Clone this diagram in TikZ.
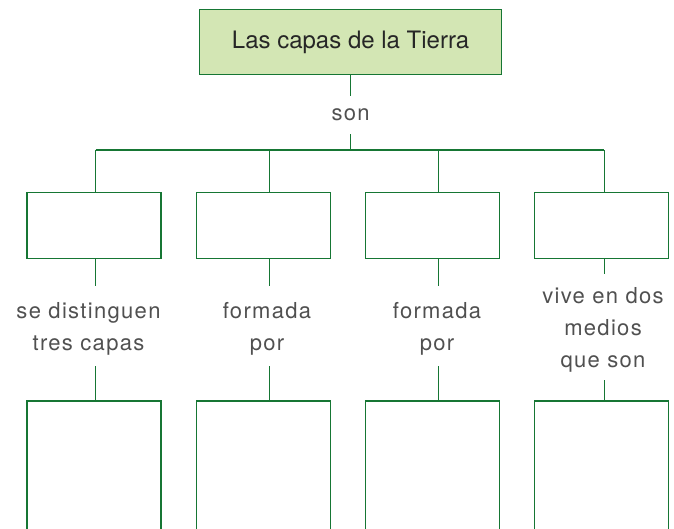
\documentclass[tikz,border=0pt]{standalone}
\usepackage{fontspec}
\setmainfont{TeX Gyre Heros}
\newfontfamily\labelfont[LetterSpace=6]{TeX Gyre Heros}
\usetikzlibrary{positioning}
\definecolor{mapgreen}{RGB}{22,118,52}
\definecolor{mapfill}{RGB}{211,230,180}
\definecolor{mapgray}{RGB}{80,80,80}

\begin{document}
\begin{tikzpicture}[x=1pt,y=-1pt]
	 \tikzstyle{title box}=[draw=mapgreen,fill=mapfill,line width=1.5pt,minimum width=302pt,minimum height=65pt,inner sep=0pt,font=\fontsize{24}{28}\selectfont,text=black!85]
	 \tikzstyle{empty box}=[draw=mapgreen,line width=1.5pt,minimum width=134pt,minimum height=66pt,inner sep=0pt]
	 \tikzstyle{open box}=[empty box,minimum height=200pt,anchor=north]
	 \tikzstyle{link}=[inner sep=0pt,align=center,text depth=0pt,text=mapgray,font=\labelfont\fontsize{22}{32}\selectfont]

	 \tikzstyle{edge}=[-,mapgreen,line width=1.5pt]

	 \useasboundingbox (0,0) rectangle (674,528);
	 \clip (0,0) rectangle (674,528);

	 \node[title box] (title) at (350.6,42.2) {Las capas de la Tierra};
	\node[link,minimum height=38pt] (son) at (350.6,115) {son};
	\coordinate (hub) at (350.6,150);

	\coordinate (j1) at (95.7,150);
	\coordinate (j2) at (269.3,150);
	\coordinate (j3) at (438.7,150);
	\coordinate (j4) at (604.3,150);

	\node[empty box] (b1) at (94,225.7) {};
	\node[empty box] (b2) at (263.3,225.7) {};
	\node[empty box] (b3) at (432.3,225.7) {};
	\node[empty box] (b4) at (601.3,225.7) {};

	\node[link,minimum height=80pt] (l1) at (88.5,326) {se distinguen\\tres capas};
	\node[link,minimum height=80pt] (l2) at (267,326) {formada\\por};
	\node[link,minimum height=80pt] (l3) at (437,326) {formada\\por};
	\node[link,minimum height=106pt] (l4) at (603,327) {vive en dos\\medios\\que son};

	\node[open box] (c1) at (94,400) {};
	\node[open box] (c2) at (263.3,400) {};
	\node[open box] (c3) at (432.3,400) {};
	\node[open box] (c4) at (601.3,400) {};

	\draw[edge] (title) -- (son);
	\draw[edge] (son) -- (hub);
	\draw[edge] (j1) -- (j4);

	\draw[edge] (j1) -- (j1 |- b1.north);
	\draw[edge] (j2) -- (j2 |- b2.north);
	\draw[edge] (j3) -- (j3 |- b3.north);
	\draw[edge] (j4) -- (j4 |- b4.north);

	\draw[edge] (b1.south -| j1) -- (j1 |- l1.north);
	\draw[edge] (b2.south -| j2) -- (j2 |- l2.north);
	\draw[edge] (b3.south -| j3) -- (j3 |- l3.north);
	\draw[edge] (b4.south -| j4) -- (j4 |- l4.north);

	\draw[edge] (l1.south -| j1) -- (j1 |- c1.north);
	\draw[edge] (l2.south -| j2) -- (j2 |- c2.north);
	\draw[edge] (l3.south -| j3) -- (j3 |- c3.north);
	\draw[edge] (l4.south -| j4) -- (j4 |- c4.north);
\end{tikzpicture}
\end{document}
